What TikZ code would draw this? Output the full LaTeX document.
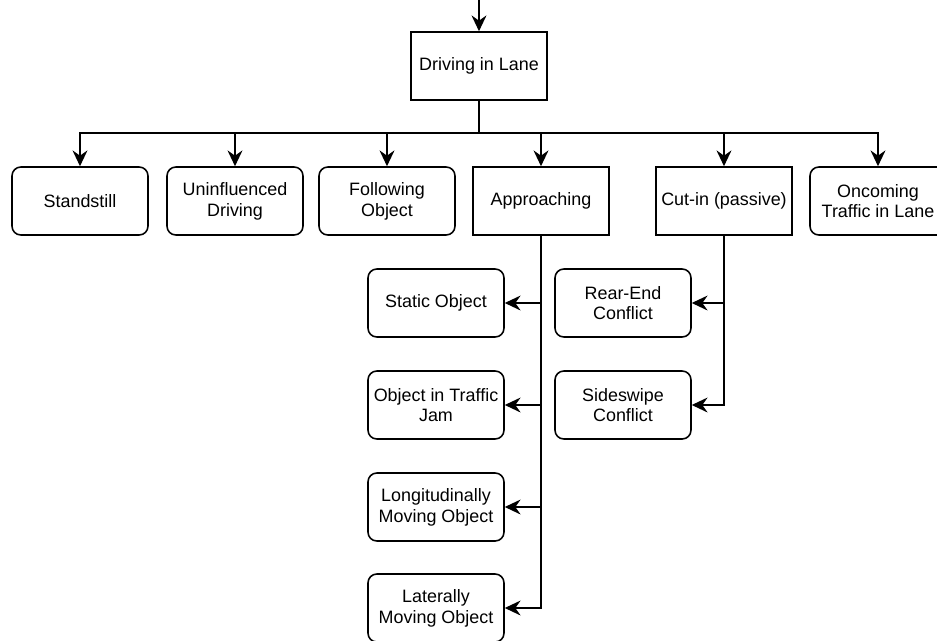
\documentclass[tikz,border=0pt]{standalone}
\usepackage{fontspec}
\setmainfont{Liberation Sans}
\usetikzlibrary{arrows.meta,positioning}

\begin{document}
\begin{tikzpicture}[
  x=0.02cm, y=-0.02cm,
  every node/.style={draw, line width=0.9pt, minimum width=2.72cm,
    minimum height=1.36cm, inner sep=1pt, align=center,
    font=\fontsize{10.2pt}{11.8pt}\selectfont},
  rect_node/.style={},
  round_node/.style={rounded corners=5pt},
  link/.style={draw, line width=0.9pt,
    -{Stealth[length=9pt,width=8.5pt,inset=3pt]}},
]
\useasboundingbox (0,0) rectangle (937,640);

% root
\coordinate (entry) at (479,0);
\node[rect_node] (lane) at (479,66) {Driving in Lane};
\coordinate (bar) at (479,133);

% first level
\node[round_node] (standstill) at (80,201)  {Standstill};
\node[round_node] (free)       at (235,201) {Uninfluenced\\Driving};
\node[round_node] (follow)     at (387,201) {Following\\Object};
\node[rect_node]  (approach)   at (541,201) {Approaching};
\node[rect_node]  (cutin)      at (724,201) {Cut-in (passive)};
\node[round_node] (oncoming)   at (878,201) {Oncoming\\Traffic in Lane};

% approaching
\node[round_node] (static)   at (436,303) {Static Object};
\node[round_node] (jam)      at (436,405) {Object in Traffic\\Jam};
\node[round_node] (longmove) at (436,507) {Longitudinally\\Moving Object};
\node[round_node] (latmove)  at (436,608) {Laterally\\Moving Object};

% cut-in
\node[round_node] (rearend)   at (623,303) {Rear-End\\Conflict};
\node[round_node] (sideswipe) at (623,405) {Sideswipe\\Conflict};

\draw[link] (entry) -- (lane.north);
\foreach \n in {standstill,free,follow,approach,cutin,oncoming}
  \draw[link] (lane.south) -- (bar) -| (\n.north);
\foreach \n in {static,jam,longmove,latmove}
  \draw[link] (approach.south) |- (\n.east);
\foreach \n in {rearend,sideswipe}
  \draw[link] (cutin.south) |- (\n.east);
\end{tikzpicture}
\end{document}
